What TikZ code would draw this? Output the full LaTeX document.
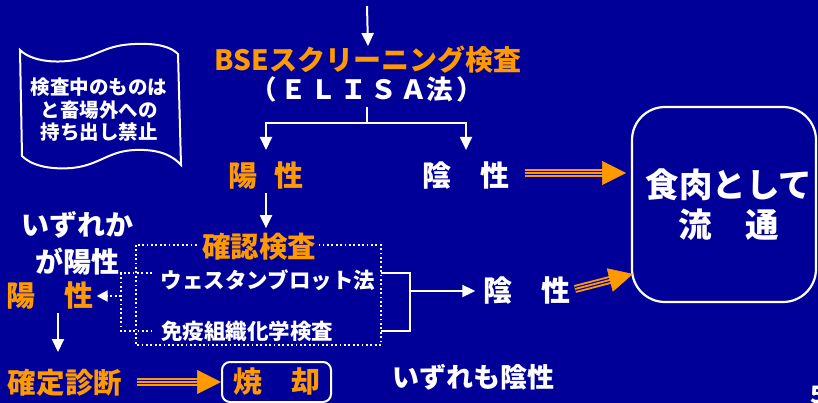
\documentclass[tikz,border=0pt]{standalone}
\usepackage{fontspec}
\setmainfont{Noto Sans CJK JP}
\usetikzlibrary{arrows.meta,calc}
\definecolor{bg}{RGB}{0,0,153}
\definecolor{org}{RGB}{255,153,0}
\newcommand\fsz[2]{\fontsize{#1pt}{#2pt}\selectfont}
\newcommand\gp{\hspace{3.5pt}}
\tikzset{
  wline/.style={white, line width=2pt},
  warrow/.style={wline, -{Triangle[length=13pt,width=12pt]}},
  dotl/.style={white, line width=2pt, dash pattern=on 1.8pt off 2.6pt},
  txt/.style={inner sep=0pt, text=white},
  otxt/.style={inner sep=0pt, text=org},
  big/.style={font=\fsz{29}{37}\bfseries},
  mid/.style={font=\fsz{21.5}{26}\bfseries},
}
\newcommand\triarr[2]{%
  \draw[org, line width=8pt, shorten >=23pt] (#1) -- (#2);
  \draw[bg, line width=4.2pt, shorten >=23pt] (#1) -- (#2);
  \draw[org, line width=1.8pt, shorten >=23pt] (#1) -- (#2);
  \draw[org, line width=0.5pt, -{Triangle[length=24pt,width=24pt]}] ($(#2)!24pt!(#1)$) -- (#2);
}
\begin{document}
\begin{tikzpicture}[x=1pt,y=-1pt]
\useasboundingbox (0,0) rectangle (818,403);
\fill[bg] (0,0) rectangle (818,403);

% scroll
\draw[white, line width=2pt, fill=bg]
  (20,50) .. controls (30,60) and (52,64) .. (75,60)
  .. controls (98,56) and (105,45) .. (135,44)
  .. controls (158,43) and (171,47) .. (178,54)
  -- (181,165)
  .. controls (173,156) and (160,149) .. (135,150)
  .. controls (108,151) and (100,165) .. (72,168)
  .. controls (46,170) and (30,164) .. (22,156) -- cycle;
\node[txt, align=center, font=\fsz{19.5}{22.5}\bfseries] (ban) at (99,110)
  {検査中のものは\\と畜場外への\\持ち出し禁止};

% top
\coordinate (topin) at (367,6);
\node[otxt, font=\fsz{28}{34}\bfseries] (bse) at (368,60) {BSEスクリーニング検査};
\node[txt, font=\fsz{26.5}{32}\bfseries] (elisa) at (367,89) {（\gp Ｅ\gp Ｌ\gp Ｉ\gp Ｓ\gp Ａ法\gp）};
\draw[warrow] (topin) -- (bse.north);
\coordinate (elb) at (367,107);
\coordinate (br) at (367,123);
\node[otxt, big] (pos1) at (266,176) {陽\hspace{0.6em}性};
\node[txt, big] (neg1) at (466,176) {陰\hspace{1em}性};
\draw[wline] (elb) -- (br);
\draw[warrow] (br) -| ([yshift=12pt]pos1.north);
\draw[warrow] (br) -| ([yshift=12pt]neg1.north);

% meat box
\node[draw=white, line width=2.2pt, rounded corners=33pt, minimum width=184pt,
      minimum height=195pt, txt, align=center, font=\fsz{33.5}{40}\bfseries] (meat) at (724,204.5)
      {\hspace{10pt}食肉として\\\hspace{10pt}流\hspace{1em}通};
\coordinate (t1s) at (525,173);
\coordinate (t1e) at (626,173);
\triarr{t1s}{t1e}

% confirmation
\draw[dotl] (136,245) rectangle (381,345);
\node[otxt, font=\fsz{28.5}{34}\bfseries, fill=bg, inner xsep=3pt] (conf) at (259,247) {確認検査};
\coordinate (cs) at ($(pos1.south)+(0,3)$);
\coordinate (ct) at ($(pos1.south |- conf.north)+(0,-5)$);
\draw[warrow] (cs) -- (ct);
\node[txt, mid] (wb) at (268,280) {ウェスタンブロット法};
\node[txt, mid] (ihc) at (247,331) {免疫組織化学検査};

% left side
\coordinate (l1) at (121,273);
\coordinate (l2) at (121,331);
\coordinate (l1e) at (152,273);
\coordinate (l2e) at (152,331);
\coordinate (lm) at (121,296);
\draw[dotl] (l1e) -- (l1) -- (l2) -- (l2e);
\node[txt, align=center, font=\fsz{28}{37}\bfseries] (either) at (77,243) {いずれか\\が陽性};
\node[otxt, big] (pos2) at (50,296) {陽\hspace{1em}性};
\draw[dotl, -{Triangle[length=11pt,width=11pt]}] (lm) -- ([xshift=3pt]pos2.east);
\node[otxt, font=\fsz{28.5}{34}\bfseries] (diag) at (65,383) {確定診断};
\coordinate (d1) at (58,313);
\coordinate (d2) at (58,352);
\draw[warrow] (d1) -- (d2);
\node[draw=white, line width=2pt, rounded corners=8pt, minimum width=109pt, minimum height=40pt,
      otxt, big] (burn) at (276.5,382) {焼\hspace{1em}却};
\coordinate (t3s) at (137,382);
\triarr{t3s}{burn.west}

% right bracket
\coordinate (r1) at (381,273);
\coordinate (r2) at (410,273);
\coordinate (r3) at (410,331);
\coordinate (r4) at (381,331);
\coordinate (rm) at (410,291);
\draw[wline] (r1) -- (r2) -- (r3) -- (r4);
\node[txt, big] (neg2) at (527,291) {陰\hspace{1em}性};
\draw[warrow] (rm) -- ([xshift=-8pt]neg2.west);
\coordinate (t2s) at (575,289);
\coordinate (t2e) at (633,274);
\triarr{t2s}{t2e}

\node[txt, font=\fsz{27}{32}\bfseries] (allneg) at (473,377) {いずれも陰性};
\node[txt, anchor=west, font=\fsz{24}{28}\bfseries] (page) at (810,395) {5};
\end{tikzpicture}
\end{document}
